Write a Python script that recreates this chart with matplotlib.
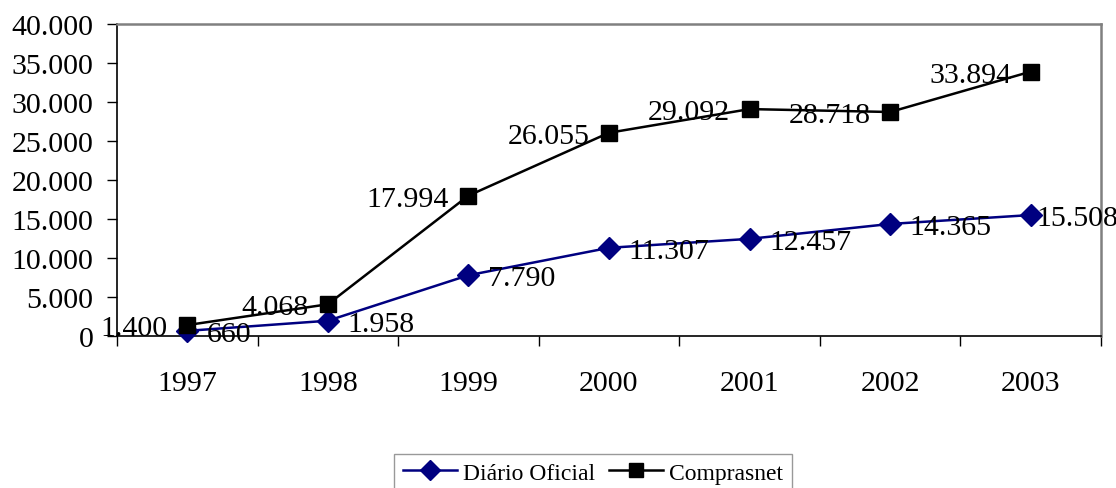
import matplotlib.pyplot as plt
from matplotlib.ticker import FuncFormatter, MultipleLocator, FixedLocator

plt.rcParams['font.family'] = ['Liberation Serif', 'DejaVu Serif']

anos = ['1997', '1998', '1999', '2000', '2001', '2002', '2003']
diario_oficial = [660, 1958, 7790, 11307, 12457, 14365, 15508]
comprasnet = [1400, 4068, 17994, 26055, 29092, 28718, 33894]


def fmt_milhar(v):
   return f'{int(round(v)):,}'.replace(',', '.')


fig = plt.figure(figsize=(11.16, 4.89), dpi=100)
ax = fig.add_axes([117 / 1116, 1 - 337 / 489, (1101 - 117) / 1116, (337 - 25) / 489])

x = list(range(len(anos)))
l1, = ax.plot(x, diario_oficial, color='#000080', lw=1.8, marker='D', ms=11,
              mfc='#000080', mec='#000080', label='Diário Oficial', clip_on=False, zorder=3)
l2, = ax.plot(x, comprasnet, color='black', lw=1.8, marker='s', ms=11,
              mfc='black', mec='black', label='Comprasnet', clip_on=False, zorder=3)

##Data labels: Comprasnet to the left, Diário Oficial to the right
for xi, v in zip(x, comprasnet):
   ax.annotate(fmt_milhar(v), (xi, v), xytext=(-14, 0), textcoords='offset points',
               ha='right', va='center_baseline', fontsize=21.5, zorder=4)
for i, (xi, v) in enumerate(zip(x, diario_oficial)):
   dx = 14 if i < len(x) - 1 else 4   # last label pushed in so it fits the picture
   ax.annotate(fmt_milhar(v), (xi, v), xytext=(dx, 0), textcoords='offset points',
               ha='left', va='center_baseline', fontsize=21.5, zorder=4)

ax.set_xlim(-0.5, len(anos) - 0.5)
ax.set_ylim(0, 40000)
ax.yaxis.set_major_locator(MultipleLocator(5000))
ax.yaxis.set_major_formatter(FuncFormatter(lambda v, p: fmt_milhar(v)))

ax.set_xticks(x)
ax.set_xticklabels(anos)
ax.xaxis.set_minor_locator(FixedLocator([i - 0.5 for i in range(len(anos) + 1)]))
ax.tick_params(axis='x', which='major', length=0, pad=24.5, labelsize=21.5)
ax.tick_params(axis='x', which='minor', length=7, width=1, color='black', direction='out')
ax.tick_params(axis='y', which='major', length=7, width=1, pad=10, labelsize=21.5, direction='out')

for side in ['left', 'bottom']:
   ax.spines[side].set_color('black')
   ax.spines[side].set_linewidth(1.2)
for side in ['top', 'right']:
   ax.spines[side].set_color('#808080')
   ax.spines[side].set_linewidth(1.8)

leg = fig.legend(handles=[l1, l2], loc='center', bbox_to_anchor=(593 / 1116, 1 - 474 / 489),
                 ncol=2, fontsize=17, frameon=True, fancybox=False, handlelength=2.3,
                 handletextpad=0.25, columnspacing=0.6, borderpad=0.35, borderaxespad=0)
leg.get_frame().set_edgecolor('#808080')
leg.get_frame().set_linewidth(1.0)
for h in leg.legend_handles:
   h.set_markersize(10)

fig.savefig('out.png', dpi=100)
